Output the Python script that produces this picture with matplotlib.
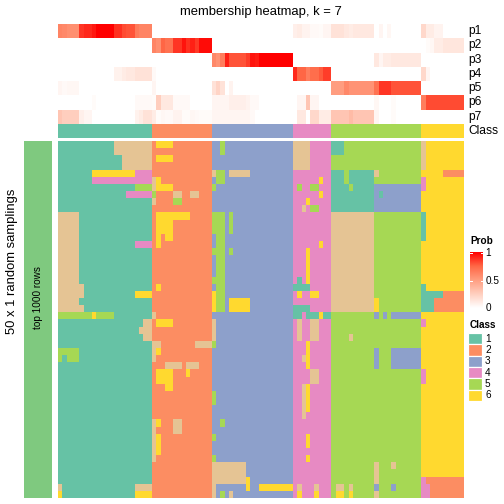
import numpy as np
import matplotlib.pyplot as plt
from matplotlib.colors import ListedColormap, LinearSegmentedColormap
from matplotlib.patches import Rectangle

plt.rcParams['font.family'] = ['Liberation Sans', 'DejaVu Sans']

########### colours ###############
class_colors = ["#66C2A5", "#FC8D62", "#8DA0CB", "#E78AC3", "#A6D854", "#FFD92F", "#E5C494"]
prob_colors = [(0.0, "#FFFFFF"), (0.25, "#FFCFBF"), (0.5, "#FF9E81"), (0.75, "#FF6846"), (1.0, "#FF0000")]
block_color = "#7FC97F"

########### data ###############
# consensus class of every column (95 columns)
class_sizes = [22, 14, 19, 9, 21, 10]
class_labels = ["1", "2", "3", "4", "5", "6"]

p1 = [0.62, 0.6, 0.57, 0.57, 0.57, 0.87, 0.9, 0.9, 0.94, 1, 1, 1, 1, 0.88, 0.88, 0.82, 0.8, 0.8, 0.66, 0.62, 0.62, 0.62,
      0, 0, 0, 0, 0, 0, 0, 0, 0, 0, 0, 0, 0, 0,
      0, 0, 0, 0, 0, 0, 0, 0, 0, 0, 0, 0, 0, 0, 0, 0, 0, 0, 0,
      0.08, 0.1, 0.06, 0.06, 0.03, 0.03, 0.02, 0.05, 0.05,
      0.15, 0.15, 0.15, 0.12, 0.1, 0.12, 0.12, 0.12, 0.12, 0.12, 0, 0.05, 0, 0.04, 0, 0, 0, 0, 0, 0, 0,
      0.2, 0.1, 0.1, 0.06, 0.06, 0, 0, 0, 0, 0]
p2 = [0, 0, 0, 0, 0, 0, 0, 0, 0, 0, 0, 0, 0, 0, 0, 0, 0, 0, 0, 0, 0, 0,
      0.62, 0.57, 0.75, 0.7, 0.7, 0.87, 0.87, 0.95, 0.88, 0.92, 0.86, 0.97, 0.97, 0.97,
      0, 0, 0, 0, 0, 0, 0, 0, 0, 0, 0, 0, 0, 0, 0, 0, 0, 0, 0,
      0, 0, 0, 0, 0, 0, 0, 0, 0,
      0, 0, 0, 0, 0, 0, 0, 0, 0, 0, 0, 0, 0, 0, 0, 0, 0, 0, 0, 0, 0,
      0, 0.02, 0.04, 0.1, 0.1, 0.13, 0.13, 0.13, 0.13, 0.13]
p3 = [0, 0, 0, 0, 0, 0, 0, 0, 0, 0, 0, 0, 0, 0, 0, 0, 0, 0, 0, 0, 0, 0,
      0, 0, 0, 0, 0, 0, 0, 0, 0, 0, 0, 0, 0, 0,
      0.6, 0.55, 0.65, 0.92, 0.8, 0.8, 0.8, 0.8, 0.85, 0.95, 0.93, 1, 1, 1, 1, 1, 1, 1, 1,
      0, 0, 0, 0, 0, 0, 0, 0, 0,
      0, 0, 0, 0, 0, 0, 0, 0, 0, 0, 0.12, 0.05, 0.1, 0.1, 0.12, 0.12, 0.12, 0.12, 0.12, 0.12, 0.12,
      0, 0, 0, 0, 0, 0, 0, 0, 0, 0]
p4 = [0, 0, 0, 0, 0, 0, 0, 0, 0, 0, 0, 0, 0, 0.07, 0.07, 0.1, 0.12, 0.12, 0.15, 0.15, 0.15, 0.15,
      0.03, 0, 0, 0, 0, 0, 0, 0, 0, 0, 0, 0, 0, 0,
      0, 0, 0, 0, 0, 0, 0, 0, 0, 0, 0, 0, 0, 0, 0, 0, 0, 0, 0,
      0.9, 0.75, 0.75, 0.65, 0.72, 0.72, 0.78, 0.85, 0.85,
      0, 0, 0, 0, 0, 0, 0, 0, 0, 0, 0, 0, 0, 0, 0, 0, 0, 0, 0, 0, 0,
      0.2, 0.05, 0, 0, 0, 0, 0, 0, 0, 0]
p5 = [0.05, 0.03, 0.04, 0.04, 0.04, 0, 0, 0, 0, 0, 0, 0, 0, 0, 0, 0, 0, 0, 0, 0, 0, 0,
      0.05, 0, 0, 0, 0, 0, 0, 0, 0, 0, 0, 0, 0, 0,
      0.15, 0.22, 0.15, 0, 0.06, 0, 0, 0, 0, 0, 0, 0, 0, 0, 0, 0, 0, 0, 0,
      0, 0, 0, 0, 0, 0, 0, 0, 0,
      0.5, 0.5, 0.5, 0.6, 0.55, 0.55, 0.55, 0.55, 0.55, 0.55, 0.7, 0.87, 0.87, 0.87, 0.8, 0.8, 0.8, 0.8, 0.8, 0.8, 0.8,
      0, 0, 0, 0, 0, 0, 0, 0, 0, 0]
p6 = [0, 0, 0, 0, 0, 0, 0, 0, 0.02, 0, 0, 0, 0, 0, 0, 0, 0, 0, 0.03, 0.03, 0.03, 0.03,
      0.02, 0.25, 0.12, 0.12, 0.12, 0.03, 0.03, 0.03, 0.03, 0, 0, 0, 0, 0,
      0.05, 0.05, 0.05, 0.05, 0.08, 0.08, 0.08, 0.08, 0.06, 0.03, 0.03, 0, 0, 0, 0, 0, 0, 0, 0,
      0, 0.05, 0.05, 0.3, 0.05, 0.05, 0, 0, 0,
      0, 0, 0, 0, 0, 0, 0, 0, 0, 0, 0.04, 0, 0, 0, 0.02, 0, 0, 0, 0, 0, 0,
      0.65, 0.82, 0.82, 0.82, 0.82, 0.82, 0.82, 0.82, 0.82, 0.82]
p7 = [0.3, 0.25, 0.25, 0.25, 0.25, 0.08, 0.05, 0.05, 0, 0, 0, 0, 0, 0, 0, 0, 0, 0, 0.07, 0.1, 0.15, 0.15,
      0.1, 0.02, 0.04, 0.03, 0.03, 0.06, 0.06, 0.02, 0.02, 0.04, 0.03, 0.02, 0.02, 0.02,
      0.05, 0.05, 0.05, 0.05, 0.05, 0.05, 0.05, 0.05, 0.05, 0.03, 0, 0, 0, 0, 0, 0, 0, 0, 0,
      0, 0.12, 0.12, 0, 0.2, 0.2, 0.1, 0.1, 0.1,
      0.3, 0.3, 0.3, 0.3, 0.35, 0.3, 0.3, 0.3, 0.3, 0.3, 0.05, 0, 0, 0, 0.02, 0, 0, 0, 0, 0, 0,
      0, 0, 0, 0, 0, 0, 0, 0, 0, 0]
prob_names = ["p1", "p2", "p3", "p4", "p5", "p6", "p7"]

# class assigned in each of the 50 random samplings (one string per row, blocks by consensus class)
samplings = [
    "1111111111111777777777 26666222222222 3353333333333333333 777744444 111555555555555555555 7666666666",
    "1111111111111777777777 22222222222222 3353333333333333333 777744444 111555555555555555555 7666666666",
    "1111111111111117777777 26666222222222 3333333333333333333 777744444 555555555555555555555 7666666666",
    "1111111111111117777777 22222222222222 3333333333333333333 777744444 555555555555555555555 7666666666",
    "1111111166666666664444 22222222222222 7553777773333333333 444444444 111511111175555555555 6666622222",
    "1111111144444444444444 76222222222222 3553333333333333333 444444644 111511111155555555555 4666666666",
    "1111111111111111115555 76666222222222 5333333333333333333 454455444 111151111133333333333 4666666666",
    "1111111111111111444444 52222772277222 3333333333333333333 444444644 111111111131333333333 6666666666",
    "1111111111111111111111 72222552222222 3333333333333333333 444644444 111111111133333333333 6666666666",
    "1111111111111111111111 22222222222222 3333333333333333333 447455444 111111111133333333333 6666666666",
    "7777711111111111111111 26666666622222 5553533333333333333 444444444 777777777755555555555 1666666666",
    "7777711111111111111111 26666222222222 5553533333333333333 444444444 777777777755555555555 1666666666",
    "7777711111111111111111 26666222222222 5553533333333333333 444444444 777777777755555555555 1666666666",
    "7777711111111111111111 26266222222222 3553333333333333333 444444444 777777777755555555555 1666666666",
    "7777711111111111114444 26222222222222 3553333333333333333 444444644 777777777755555555555 6666666666",
    "7777711111111111111111 22222222222222 5553533333333333333 444644444 777777777755555555555 6666666666",
    "7777711111111111111111 22222222222222 3553333333333333333 444644444 777777777755555555555 6666666666",
    "7777711111111111111111 22222222222222 3553333333333333333 444644444 777777777755555555555 6666666666",
    "7777711111111111111111 22222222222222 3553333333333333333 444644444 777777777755555555555 6666666666",
    "7777711111111111111111 22222222222222 5553333333333333333 414644444 777777777755555555555 6666666666",
    "7777771111111111111111 26222222222222 3553333333333333333 111144444 777777777755555555555 1666666666",
    "7777771111111111116666 22222222222222 6553333333333333333 464466444 777777777755555555555 1111122222",
    "7777711111111111111111 22222222222222 6553666663333333333 444444444 777777777765555555555 1112222222",
    "7777771111111111111111 22222222222222 6553666663333333333 111144444 777777777765555555555 1112222222",
    "5555555565555111111111 72222222222222 3333333333333333333 114111611 555555555535353333333 6666666666",
    "1111111111111111111177 26666222222222 7333333333333333333 474477444 555555555555555555555 4666666666",
    "1111111111111111111777 22222222222222 7333333333333333333 474477444 555555555555555555555 6666666666",
    "1111111111111111111177 22222222222222 7333333333333333333 474477444 555575555555555555555 6666666666",
    "1111111111111111111111 77222222227777 5333333333333333333 444644444 555555555555555555555 6666666666",
    "5555511111111111111111 76222222222222 3333333333333333333 444644444 555555555535553333333 6666666666",
    "5155511111111111111111 72222222222222 3333333333333333333 447644444 555555555535553333333 6666666666",
    "1111111111111111111111 22277772777222 3333333333333333333 444644444 555555555535553333333 6666666666",
    "1111111111111111111111 26666222622222 3333333333333333333 444477444 555555555555555555555 4666666666",
    "1111111111111111111111 26666222222222 3333333333333333333 444477444 555555555555555555555 4666666666",
    "1111111111111111111111 22266222222222 3333333333333333333 447644444 555555555555555555555 6666666666",
    "1111111111111111111111 22222222222222 5333333333333333333 447644444 555555555555555555555 6666666666",
    "1111111111111111111111 22222222222222 5333333333333333333 447644444 555555555555555555555 6666666666",
    "1111111111111111111111 22222222222222 3333333333333333333 447644444 555555555555555555555 6666666666",
    "1111111111111111111111 22222222222222 3333333333333333333 447444444 555555555555555555555 6666666666",
    "1111111111111111111111 76222772222222 3353333333333333333 444444444 555555555555555555555 6666666666",
    "1111111111111111111111 72222772222222 3333333333333333333 444444444 555555555555555555555 6666666666",
    "1111111111111111111111 76222222222222 5333333333333333333 444644444 555555555555555555555 6666666666",
    "1111111111111111111111 76222222222222 3333333333333333333 444644444 555555555555555555555 6666666666",
    "1111111111111111111111 76222222222222 3333333333333333333 444444444 555555555555555555555 6666666666",
    "1111111111111111111111 72222222222222 5333333333333333333 444644444 555555555555555555555 6666666666",
    "1111111111111111111111 22222222222222 7777777733333333333 444444444 555555555575557555555 6666666666",
    "1111111111111111111111 22222222222222 7777777733333333333 444444444 555555555575555555555 6666666666",
    "1111111111111111111111 22222222222222 7777777763333333333 444444444 555555555575555555555 4222222222",
    "7111111111111111117777 22222222222222 7333333363366666666 474447444 577575555535553555555 4422222222",
    "6111111111111111116666 22222222222222 7353733333333333333 464446444 566565555575555555555 4422222222",
]

########### Getting the required matrices ###############
consensus = np.repeat(np.arange(1, 7), class_sizes)
n_col = consensus.size
P = np.array([p1, p2, p3, p4, p5, p6, p7], dtype=float)
M = np.array([[int(c) for c in row.replace(" ", "")] for row in samplings])
assert P.shape == (7, n_col) and M.shape == (50, n_col)

class_cmap = ListedColormap(class_colors)
prob_cmap = LinearSegmentedColormap.from_list("prob", prob_colors)

########### Figure ###################
W = H = 504
fig = plt.figure(figsize=(7, 7), dpi=72)


def px_axes(x0, y0, x1, y1):
    ax = fig.add_axes([x0 / W, 1 - y1 / H, (x1 - x0) / W, (y1 - y0) / H])
    ax.set_xticks([])
    ax.set_yticks([])
    for s in ax.spines.values():
        s.set_visible(False)
    return ax


left, right = 58, 463.6
row_h = 14.24

ax_p = px_axes(left, 24, right, 24 + 7 * row_h)
ax_p.imshow(P, cmap=prob_cmap, vmin=0, vmax=1, aspect='auto', interpolation='nearest')

ax_c = px_axes(left, 24 + 7 * row_h, right, 24 + 8 * row_h)
ax_c.imshow(consensus[None, :], cmap=class_cmap, vmin=0.5, vmax=7.5, aspect='auto', interpolation='nearest')

ax_m = px_axes(left, 141, right, 498)
ax_m.imshow(M, cmap=class_cmap, vmin=0.5, vmax=7.5, aspect='auto', interpolation='nearest')

ax_b = px_axes(24, 141, 52, 498)
ax_b.set_facecolor(block_color)
ax_b.text(0.5, 1 - (298 - 141) / 357, "top 1000 rows", rotation=90, ha='center', va='center',
          fontsize=10, transform=ax_b.transAxes)

# annotation names
for i, name in enumerate(prob_names + ["Class"]):
    fig.text(468 / W, 1 - (24 + (i + 0.5) * row_h) / H, name, ha='left', va='center', fontsize=12)

fig.text(261 / W, 1 - 12 / H, "membership heatmap, k = 7", ha='center', va='center', fontsize=13)
fig.text(12 / W, 1 - 261 / H, "50 x 1 random samplings", ha='center', va='center', rotation=90, fontsize=13)

############ Legends ###################
fig.text(470 / W, 1 - 241 / H, "Prob", ha='left', va='center', fontsize=10, fontweight='bold')
ax_cb = px_axes(470, 250, 483, 311)
grad = np.linspace(1, 0, 200)[:, None]
ax_cb.imshow(grad, cmap=prob_cmap, vmin=0, vmax=1, aspect='auto', extent=(0, 1, 0, 1))
ax_cb.set_xlim(0, 1)
ax_cb.set_ylim(-0.05, 1.05)
for v in [0, 0.5, 1]:
    ax_cb.plot([0, 0.18], [v, v], color='white', lw=1)
    ax_cb.plot([0.82, 1], [v, v], color='white', lw=1)
    ax_cb.text(1.2, v, f"{v:g}", ha='left', va='center', fontsize=10, transform=ax_cb.transData, clip_on=False)

fig.text(470 / W, 1 - 325 / H, "Class", ha='left', va='center', fontsize=10, fontweight='bold')
ax_lg = px_axes(468, 333, 504, 401)
ax_lg.set_xlim(468, 504)
ax_lg.set_ylim(401, 333)
box_h = 11.3
for i, lab in enumerate(class_labels):
    y0 = 333 + i * box_h
    ax_lg.add_patch(Rectangle((468, y0), 14, box_h, facecolor=class_colors[i], edgecolor='white', lw=1.2))
    ax_lg.text(485, y0 + box_h / 2, lab, ha='left', va='center', fontsize=10)

fig.savefig("out.png", dpi=72)
